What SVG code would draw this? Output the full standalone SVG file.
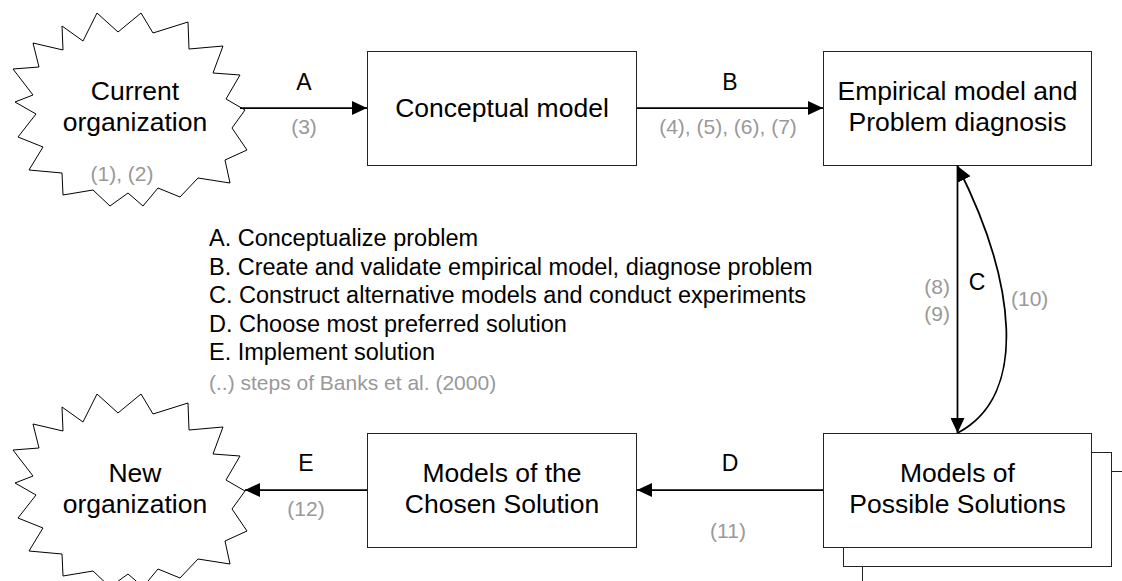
<svg xmlns="http://www.w3.org/2000/svg" width="1122" height="581" viewBox="0 0 1122 581">
<style>
text{font-family:"Liberation Sans",Arial,sans-serif;}
.star{fill:#fff;stroke:#000;stroke-width:1;}
.box{fill:#fff;stroke:#222;stroke-width:1;}
.main{font-size:26.5px;fill:#000;text-anchor:middle;}
.lbl{font-size:23px;fill:#000;text-anchor:middle;}
.num{font-size:21px;fill:#999;text-anchor:middle;}
.leg{font-size:23.5px;fill:#000;}
.arr{fill:none;stroke:#000;stroke-width:1.75;}
</style>
<defs>
<polygon id="starShape" points="97,13 118,32 141,13 153,33 188,22 189,49 223,46 213,73 240,75 226,99 245,110 232,128 247,150 225,160 230,183 198,178 180,197 158,188 143,206 128,193 110,206 93,190 63,195 62,173 29,170 43,147 18,137 36,114 15,102 33,95 13,69 39,67 33,43 63,50 62,26 83,41"/>
<marker id="ah" markerWidth="15" markerHeight="14" refX="15" refY="7" orient="auto" markerUnits="userSpaceOnUse">
<path d="M0,0 L15,7 L0,14 z" fill="#000"/>
</marker>
</defs>

<g id="current-org">
<use href="#starShape" class="star"/>
<text class="main" x="135" y="100">Current</text>
<text class="main" x="135" y="131">organization</text>
<text class="num" x="122" y="181">(1), (2)</text>
</g>

<g id="new-org">
<use href="#starShape" class="star" transform="translate(0,381)"/>
<text class="main" x="135" y="482">New</text>
<text class="main" x="135" y="513">organization</text>
</g>

<g id="conceptual-model">
<rect class="box" x="367.5" y="51.5" width="269" height="114"/>
<text class="main" x="502" y="117">Conceptual model</text>
</g>

<g id="empirical-model">
<rect class="box" x="823.5" y="51.5" width="268" height="114"/>
<text class="main" x="957.5" y="100">Empirical model and</text>
<text class="main" x="957.5" y="131">Problem diagnosis</text>
</g>

<g id="possible-solutions">
<rect class="box" x="862.5" y="471.5" width="268" height="114"/>
<rect class="box" x="843.5" y="452.5" width="268" height="114"/>
<rect class="box" x="823.5" y="433.5" width="268" height="114"/>
<text class="main" x="957.5" y="482">Models of</text>
<text class="main" x="957.5" y="513">Possible Solutions</text>
</g>

<g id="chosen-solution">
<rect class="box" x="367.5" y="433.5" width="269" height="114"/>
<text class="main" x="502" y="482">Models of the</text>
<text class="main" x="502" y="513">Chosen Solution</text>
</g>

<g id="connectors">
<path class="arr" d="M240,108 L367,108" marker-end="url(#ah)"/>
<path class="arr" d="M637,108 L823,108" marker-end="url(#ah)"/>
<path class="arr" d="M957.5,166 L957.5,433" marker-end="url(#ah)"/>
<path class="arr" d="M957.5,433 C1030,395 1015,280 957.5,166" marker-end="url(#ah)"/>
<path class="arr" d="M823,490 L637,490" marker-end="url(#ah)"/>
<path class="arr" d="M367,490 L245,490" marker-end="url(#ah)"/>
<text class="lbl" x="304" y="90">A</text>
<text class="num" x="304" y="134">(3)</text>
<text class="lbl" x="730" y="90">B</text>
<text class="num" x="728" y="134">(4), (5), (6), (7)</text>
<text class="lbl" x="977" y="290">C</text>
<text class="num" x="950" y="294" style="text-anchor:end">(8)</text>
<text class="num" x="950" y="321" style="text-anchor:end">(9)</text>
<text class="num" x="1011" y="306" style="text-anchor:start">(10)</text>
<text class="lbl" x="730" y="471">D</text>
<text class="num" x="728" y="538">(11)</text>
<text class="lbl" x="306" y="471">E</text>
<text class="num" x="306" y="516">(12)</text>
</g>

<g id="legend">
<text class="leg" x="209" y="246">A. Conceptualize problem</text>
<text class="leg" x="209" y="275">B. Create and validate empirical model, diagnose problem</text>
<text class="leg" x="209" y="303">C. Construct alternative models and conduct experiments</text>
<text class="leg" x="209" y="332">D. Choose most preferred solution</text>
<text class="leg" x="209" y="360">E. Implement solution</text>
<text class="leg" x="209" y="390" style="fill:#999;font-size:21px">(..) steps of Banks et al. (2000)</text>
</g>
</svg>
